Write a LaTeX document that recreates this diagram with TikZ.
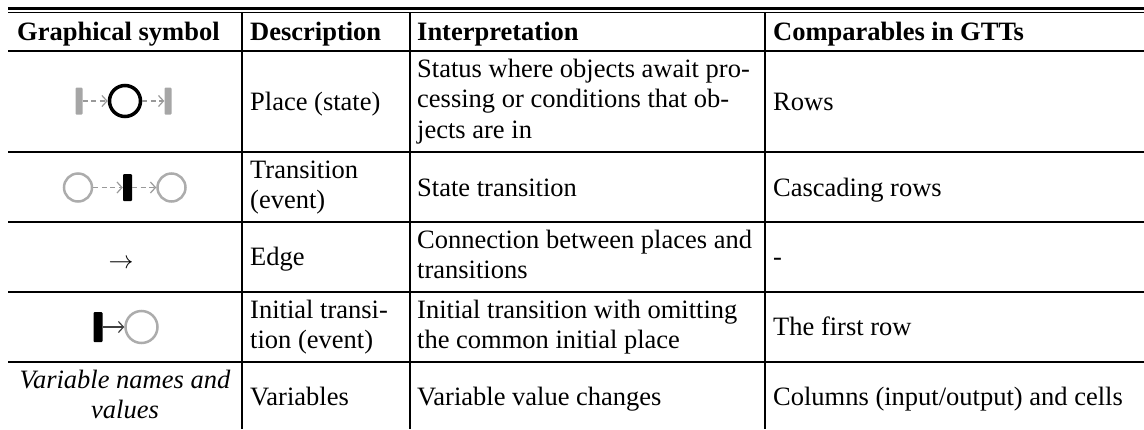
\documentclass[tikz,border=0pt]{standalone}
\usepackage{fontspec}
\setmainfont{Liberation Serif}
\usetikzlibrary{arrows.meta}

\newcommand\tabfont{\fontsize{26.5}{30.5}\selectfont}
\newcommand\cs{\rule[-5.7pt]{0pt}{29.3pt}}

\begin{document}
\begin{tikzpicture}[x=1pt,y=-1pt,font=\tabfont,
  tabrule/.style={line width=1.7pt},
  cell/.style={anchor=west,align=left,inner sep=0pt,
    execute at begin node=\cs,execute at end node=\cs},
  head/.style={cell,font=\tabfont\bfseries},
  placec/.style={circle,draw=gray!65,line width=2.5pt,inner sep=0pt},
  transbar/.style={rectangle,rounded corners=1pt,inner sep=0pt,
    minimum width=9pt,minimum height=27pt},
  flowdash/.style={draw=gray!80,line width=1.3pt,dash pattern=on 5pt off 3.5pt,
    -{Straight Barb[length=5pt,width=11pt,line width=1.2pt]}},
  flowline/.style={draw=black!75,line width=1.3pt,
    -{Straight Barb[length=5pt,width=11pt,line width=1.2pt]}}]
  \useasboundingbox (0,0) rectangle (1144,429);

  % rules
  \draw[line width=2.7pt] (8,8.7) -- (1144,8.7);
  \draw[line width=1.5pt] (8,12.5) -- (1144,12.5);
  \foreach \y in {51,152,222,292,362}
    \draw[tabrule] (8,\y) -- (1144,\y);
  \foreach \x in {242,410,765}
    \draw[tabrule] (\x,12.5) -- (\x,429);

  % header
  \node[head] (h1) at (17,32) {Graphical symbol};
  \node[head] (h2) at (250,32) {Description};
  \node[head] (h3) at (417,32) {Interpretation};
  \node[head] (h4) at (773,32) {Comparables in GTTs};

  % symbols
  \node[transbar,fill=gray!70,minimum width=7pt] (s1a) at (79,101) {};
  \node[placec,draw=black,line width=3.5pt,minimum size=31pt] (s1b) at (125,101) {};
  \node[transbar,fill=gray!70,minimum width=7pt] (s1c) at (168,101) {};
  \draw[flowdash] (s1a) -- (s1b);
  \draw[flowdash] (s1b) -- (s1c);

  \node[placec,minimum size=28pt] (s2a) at (78,187.5) {};
  \node[transbar,fill=black] (s2b) at (127.5,187.5) {};
  \node[placec,minimum size=28pt] (s2c) at (171.5,187.5) {};
  \draw[flowdash] (s2a) -- (s2b);
  \draw[flowdash] (s2b) -- (s2c);

  \node[inner sep=0pt] (s3) at (121,264) {$\rightarrow$};

  \node[transbar,fill=black,minimum height=30pt] (s4a) at (98,327) {};
  \node[placec,minimum size=32pt] (s4b) at (141.5,327) {};
  \draw[flowline] (s4a) -- (s4b);

  \node[cell,anchor=center,align=center,font=\tabfont\itshape] (s5) at (125,397)
    {Variable names and\\values};

  % rows
  \foreach \y/\desc/\interp/\comp [count=\i] in {
    101.5/{Place (state)}/{Status where objects await pro-\\cessing or conditions that ob-\\jects are in}/Rows,
    187.5/{Transition\\(event)}/{State transition}/{Cascading rows},
    257/Edge/{Connection between places and\\transitions}/-,
    327/{Initial transi-\\tion (event)}/{Initial transition with omitting\\the common initial place}/{The first row},
    397/Variables/{Variable value changes}/{Columns (input/output) and cells}}
  {
    \node[cell] (d\i) at (250,\y) {\desc};
    \node[cell] (t\i) at (417,\y) {\interp};
    \node[cell] (c\i) at (773,\y) {\comp};
  }
\end{tikzpicture}
\end{document}
